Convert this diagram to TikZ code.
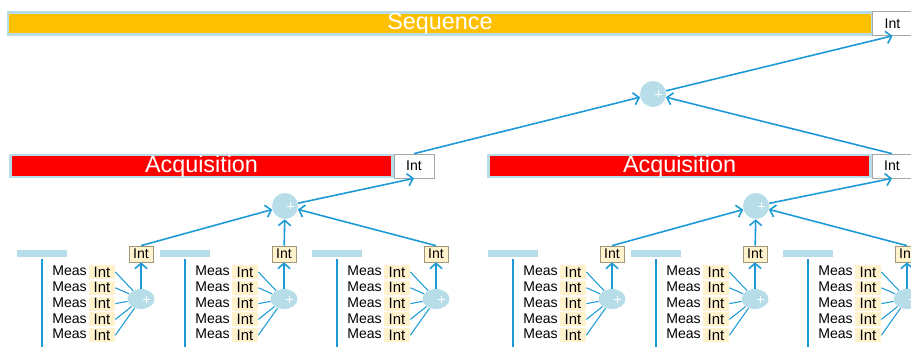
\documentclass[tikz,border=0pt]{standalone}
\usepackage{fontspec}
\setmainfont{Liberation Sans}
\usetikzlibrary{arrows.meta,shapes.geometric}
\definecolor{flowblue}{RGB}{28,154,214}
\definecolor{paleblue}{RGB}{183,222,232}
\definecolor{seqorange}{RGB}{255,192,0}
\definecolor{intyellow}{RGB}{255,242,204}
\definecolor{totedge}{RGB}{160,150,120}
\begin{document}
\begin{tikzpicture}
[x=0.02cm, y=-0.02cm, font=\fontsize{8}{9}\selectfont,
 >={Straight Barb[length=3pt,width=7pt]},
 flow/.style={draw=flowblue, line width=.9pt},
 fan/.style={draw=flowblue, line width=.6pt},
 bar/.style={draw=paleblue, line width=1.6pt, inner sep=0pt, minimum height=.44cm, text=white, font=\fontsize{13.3}{15}\selectfont},
 intbox/.style={draw=black!35, fill=white, inner sep=0pt, minimum width=.8cm, minimum height=.48cm},
 totbox/.style={draw=totedge, fill=intyellow, inner sep=0pt, minimum width=.48cm, minimum height=.32cm},
 cell/.style={fill=intyellow, inner sep=0pt, minimum width=.52cm, minimum height=.28cm, font=\fontsize{8.5}{9}\selectfont},
 plus/.style={path picture={\draw[white, line width=.4pt, shift={(path picture bounding box.center)}] (1.5,0) -- (8.5,0) (5,-3.5) -- (5,3.5);}},
 accsum/.style={circle, fill=paleblue, inner sep=0pt, minimum size=.52cm, plus},
 rowsum/.style={ellipse, fill=paleblue, inner sep=0pt, minimum width=.54cm, minimum height=.4cm, plus}]
\clip (0,0) rectangle (911,347);

% sequence level
\node[bar, fill=seqorange, minimum width=17.28cm] (seq) at (440,23.5) {Sequence};
\node[intbox, minimum width=.82cm] (seqint) at (892.5,23.5) {Int};
\node[accsum] (top) at (653,94) {};

% acquisition level
\node[bar, fill=red, minimum width=7.64cm] (acqL) at (201.5,166) {Acquisition};
\node[intbox] (intL) at (414,166) {Int};
\node[bar, fill=red, minimum width=7.64cm] (acqR) at (679.5,166) {Acquisition};
\node[intbox] (intR) at (892,166) {Int};
\node[accsum] (accL) at (285,206) {};
\node[accsum] (accR) at (756,206) {};

% measurement groups
\foreach \g/\mx in {1/52, 2/195, 3/347, 4/523, 5/666, 6/818} {
  \fill[paleblue] ({\mx-35},250) rectangle ({\mx+15},257);
  \draw[flowblue, line width=.7pt] ({\mx-10},259) -- ({\mx-10},350);
  \node[totbox] (tot\g) at ({\mx+89},254) {Int};
  \node[rowsum] (sum\g) at ({\mx+89},299) {};
  \draw[flow,->] (sum\g) -- (tot\g);
  \foreach \r in {0,...,4} {
    \node[anchor=west, inner sep=0pt] (meas\g\r) at (\mx,{271+15.8*\r}) {Meas};
    \node[cell] (cell\g\r) at ({\mx+50},{272+15.8*\r}) {Int};
    \draw[fan] (cell\g\r.east) -- (sum\g);
  }
}

\draw[flow,->] (tot1.north) -- (accL);
\draw[flow,->] (tot2) -- (accL);
\draw[flow,->] (tot3.north) -- (accL);
\draw[flow,->] (tot4.north) -- (accR);
\draw[flow,->] (tot5) -- (accR);
\draw[flow,->] (tot6.north) -- (accR);
\draw[flow,->] (accL) -- (intL.south);
\draw[flow,->] (accR) -- (intR.south);
\draw[flow,->] (intL.north) -- (top);
\draw[flow,->] (intR.north) -- (top);
\draw[flow,->] (top) -- (seqint.south);
\end{tikzpicture}
\end{document}
